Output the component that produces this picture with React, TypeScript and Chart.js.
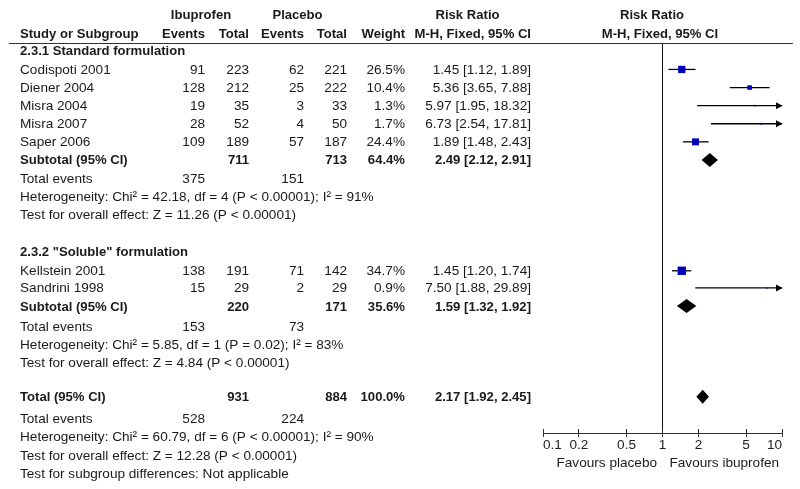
import React, { useEffect, useRef } from "react";
import { Chart, registerables } from "chart.js";

Chart.register(...registerables);

// ---------------- data ----------------
const studies = ["Codispoti 2001", "Diener 2004", "Misra 2004", "Misra 2007", "Saper 2006", "Kellstein 2001", "Sandrini 1998"];
const studyRows = [1, 2, 3, 4, 5, 12.12, 13.07];
const ibuprofenEvents = [91, 128, 19, 28, 109, 138, 15];
const ibuprofenTotals = [223, 212, 35, 52, 189, 191, 29];
const placeboEvents = [62, 25, 3, 4, 57, 71, 2];
const placeboTotals = [221, 222, 33, 50, 187, 142, 29];
const studyWeights = [26.5, 10.4, 1.3, 1.7, 24.4, 34.7, 0.9];
const studyRR = [1.45, 5.36, 5.97, 6.73, 1.89, 1.45, 7.5];
const studyLower = [1.12, 3.65, 1.95, 2.54, 1.48, 1.2, 1.88];
const studyUpper = [1.89, 7.88, 18.32, 17.81, 2.43, 1.74, 29.89];

const groupHeaders = ["2.3.1 Standard formulation", '2.3.2 "Soluble" formulation'];
const groupHeaderRows = [-0.05, 11.03];

const pooledLabels = ["Subtotal (95% CI)", "Subtotal (95% CI)", "Total (95% CI)"];
const pooledRows = [6, 14.07, 19.08];
const pooledIbuprofenTotals = [711, 220, 931];
const pooledPlaceboTotals = [713, 171, 884];
const pooledWeights = [64.4, 35.6, 100.0];
const pooledRR = [2.49, 1.59, 2.17];
const pooledLower = [2.12, 1.32, 1.92];
const pooledUpper = [2.91, 1.92, 2.45];

const totalEventsRows = [7, 15.2, 20.3];
const totalEventsIbuprofen = [375, 153, 528];
const totalEventsPlacebo = [151, 73, 224];
const heterogeneityRows = [8, 16.2, 21.3];
const heterogeneityTexts = [
  "Heterogeneity: Chi² = 42.18, df = 4 (P < 0.00001); I² = 91%",
  "Heterogeneity: Chi² = 5.85, df = 1 (P = 0.02); I² = 83%",
  "Heterogeneity: Chi² = 60.79, df = 6 (P < 0.00001); I² = 90%",
];
const overallEffectRows = [9, 17.2, 22.3];
const overallEffectTexts = [
  "Test for overall effect: Z = 11.26 (P < 0.00001)",
  "Test for overall effect: Z = 4.84 (P < 0.00001)",
  "Test for overall effect: Z = 12.28 (P < 0.00001)",
];
const subgroupTestRow = 23.3;
const subgroupTestText = "Test for subgroup differences: Not applicable";

const headerRows = [-2.05, -1.0];
const axisTicks = [0.1, 0.2, 0.5, 1, 2, 5, 10];
const axisMin = 0.1;
const axisMax = 10;
const favoursLeft = "Favours placebo";
const favoursRight = "Favours ibuprofen";
const rowTop = -0.46;
const rowBottom = 21.08;

// ---------------- styles ----------------
const FONT = '"Liberation Sans", Arial, sans-serif';
const REG = 13.6;
const BOLD = 13.1;
const TEXT = "#1a1a1a";
const COL = { study: 20, ibuEv: 205, ibuTot: 249, plaEv: 304, plaTot: 347, weight: 405, ci: 531 };

const fmtCI = (m: number, l: number, u: number) => `${m.toFixed(2)} [${l.toFixed(2)}, ${u.toFixed(2)}]`;

const forestPlugin = {
  id: "forestTable",
  afterDatasetsDraw(chart: any) {
    const { ctx, scales } = chart;
    const x = scales.x;
    const y = scales.y;
    ctx.save();
    // diamonds
    ctx.fillStyle = "#000";
    for (let i = 0; i < pooledRR.length; i++) {
      const yc = y.getPixelForValue(pooledRows[i]);
      const xl = x.getPixelForValue(pooledLower[i]);
      const xm = x.getPixelForValue(pooledRR[i]);
      const xr = x.getPixelForValue(pooledUpper[i]);
      const h = 7;
      ctx.beginPath();
      ctx.moveTo(xl, yc);
      ctx.lineTo(xm, yc - h);
      ctx.lineTo(xr, yc);
      ctx.lineTo(xm, yc + h);
      ctx.closePath();
      ctx.fill();
    }
    // arrows for CIs beyond axis
    for (let i = 0; i < studyUpper.length; i++) {
      if (studyUpper[i] > axisMax) {
        const yc = y.getPixelForValue(studyRows[i]);
        const xe = x.getPixelForValue(axisMax);
        ctx.beginPath();
        ctx.moveTo(xe + 0.5, yc);
        ctx.lineTo(xe - 6, yc - 3.5);
        ctx.lineTo(xe - 6, yc + 3.5);
        ctx.closePath();
        ctx.fill();
      }
    }
    ctx.restore();
  },
  afterDraw(chart: any) {
    const { ctx, scales } = chart;
    const x = scales.x;
    const y = scales.y;
    const yp = (r: number) => y.getPixelForValue(r);
    ctx.save();
    const txt = (s: string, px: number, r: number, align: CanvasTextAlign, bold = false) => {
      ctx.font = `${bold ? "bold " : ""}${bold ? BOLD : REG}px ${FONT}`;
      ctx.textAlign = align;
      ctx.textBaseline = "alphabetic";
      ctx.fillStyle = TEXT;
      ctx.fillText(s, px, yp(r) + 4.5);
    };
    // header line
    ctx.strokeStyle = "#333";
    ctx.lineWidth = 1;
    ctx.beginPath();
    const hy = Math.round(yp(rowTop)) + 0.5;
    ctx.moveTo(9, hy);
    ctx.lineTo(793, hy);
    ctx.stroke();

    // headers
    txt("Ibuprofen", 201, headerRows[0], "center", true);
    txt("Placebo", 297.5, headerRows[0], "center", true);
    txt("Risk Ratio", 467.5, headerRows[0], "center", true);
    txt("Risk Ratio", 652, headerRows[0], "center", true);
    txt("Study or Subgroup", COL.study, headerRows[1], "left", true);
    txt("Events", COL.ibuEv, headerRows[1], "right", true);
    txt("Total", COL.ibuTot, headerRows[1], "right", true);
    txt("Events", COL.plaEv, headerRows[1], "right", true);
    txt("Total", COL.plaTot, headerRows[1], "right", true);
    txt("Weight", COL.weight, headerRows[1], "right", true);
    txt("M-H, Fixed, 95% CI", COL.ci, headerRows[1], "right", true);
    txt("M-H, Fixed, 95% CI", 660, headerRows[1], "center", true);

    groupHeaders.forEach((g, i) => txt(g, COL.study, groupHeaderRows[i], "left", true));

    studies.forEach((s, i) => {
      const r = studyRows[i];
      txt(s, COL.study, r, "left");
      txt(String(ibuprofenEvents[i]), COL.ibuEv, r, "right");
      txt(String(ibuprofenTotals[i]), COL.ibuTot, r, "right");
      txt(String(placeboEvents[i]), COL.plaEv, r, "right");
      txt(String(placeboTotals[i]), COL.plaTot, r, "right");
      txt(studyWeights[i].toFixed(1) + "%", COL.weight, r, "right");
      txt(fmtCI(studyRR[i], studyLower[i], studyUpper[i]), COL.ci, r, "right");
    });

    pooledLabels.forEach((s, i) => {
      const r = pooledRows[i];
      txt(s, COL.study, r, "left", true);
      txt(String(pooledIbuprofenTotals[i]), COL.ibuTot, r, "right", true);
      txt(String(pooledPlaceboTotals[i]), COL.plaTot, r, "right", true);
      txt(pooledWeights[i].toFixed(1) + "%", COL.weight, r, "right", true);
      txt(fmtCI(pooledRR[i], pooledLower[i], pooledUpper[i]), COL.ci, r, "right", true);
    });

    totalEventsRows.forEach((r, i) => {
      txt("Total events", COL.study, r, "left");
      txt(String(totalEventsIbuprofen[i]), COL.ibuEv, r, "right");
      txt(String(totalEventsPlacebo[i]), COL.plaEv, r, "right");
    });
    heterogeneityRows.forEach((r, i) => txt(heterogeneityTexts[i], COL.study, r, "left"));
    overallEffectRows.forEach((r, i) => txt(overallEffectTexts[i], COL.study, r, "left"));
    txt(subgroupTestText, COL.study, subgroupTestRow, "left");

    // upward tick halves on the axis
    const ay = chart.chartArea.bottom;
    ctx.strokeStyle = "#333";
    ctx.lineWidth = 1;
    axisTicks.forEach((t) => {
      const px = Math.round(x.getPixelForValue(t) - 0.5) + 0.5;
      ctx.beginPath();
      ctx.moveTo(px, ay - 4);
      ctx.lineTo(px, ay);
      ctx.stroke();
    });

    // favours labels
    const x1 = x.getPixelForValue(1);
    ctx.font = `${REG}px ${FONT}`;
    ctx.fillStyle = TEXT;
    ctx.textBaseline = "alphabetic";
    ctx.textAlign = "right";
    ctx.fillText(favoursLeft, x1 - 5.5, ay + 33.5);
    ctx.textAlign = "left";
    ctx.fillText(favoursRight, x1 + 7, ay + 33.5);
    ctx.restore();
  },
};

export default function App() {
  const ref = useRef<HTMLCanvasElement | null>(null);
  useEffect(() => {
    const canvas = ref.current;
    if (!canvas) return;
    const datasets: any[] = [];
    datasets.push({
      type: "scatter",
      data: studies.map((_, i) => ({ x: studyRR[i], y: studyRows[i] })),
      pointStyle: "rect",
      pointRadius: studyWeights.map((w) => 1.0 * Math.sqrt(w)),
      backgroundColor: "#0000bb",
      borderWidth: 0,
    });
    studies.forEach((_, i) => {
      datasets.push({
        type: "line",
        data: [
          { x: studyLower[i], y: studyRows[i] },
          { x: Math.min(studyUpper[i], axisMax), y: studyRows[i] },
        ],
        borderColor: "#000",
        borderWidth: 1.3,
        pointRadius: 0,
      });
    });
    datasets.push({
      type: "line",
      data: [
        { x: 1, y: rowTop },
        { x: 1, y: rowBottom },
      ],
      borderColor: "#111",
      borderWidth: 1,
      pointRadius: 0,
    });

    const chart = new Chart(canvas, {
      type: "scatter",
      data: { datasets },
      options: {
        responsive: false,
        animation: false,
        layout: { padding: { left: 543, right: 18, top: 43, bottom: 0 } },
        plugins: { legend: { display: false }, tooltip: { enabled: false } },
        scales: {
          x: {
            type: "logarithmic",
            min: axisMin,
            max: axisMax,
            position: "bottom",
            afterBuildTicks: (s: any) => {
              s.ticks = axisTicks.map((v) => ({ value: v }));
            },
            afterFit: (s: any) => {
              s.height = 56;
            },
            grid: { drawOnChartArea: false, drawTicks: true, tickLength: 4, color: "#333", tickColor: "#333" },
            border: { display: true, color: "#333", width: 1 },
            ticks: {
              align: "inner",
              padding: 0,
              color: "#222",
              autoSkip: false,
              maxRotation: 0,
              font: { family: FONT, size: 13.6 },
              callback: (v: any) => String(v),
            },
          },
          y: { type: "linear", reverse: true, min: rowTop, max: rowBottom, display: false },
        },
      } as any,
      plugins: [forestPlugin],
    });
    return () => chart.destroy();
  }, []);
  return (
    <div style={{ position: "absolute", left: 0, top: 0, width: 800, height: 489, background: "#fff" }}>
      <canvas ref={ref} width={800} height={489} style={{ display: "block" }} />
    </div>
  );
}
